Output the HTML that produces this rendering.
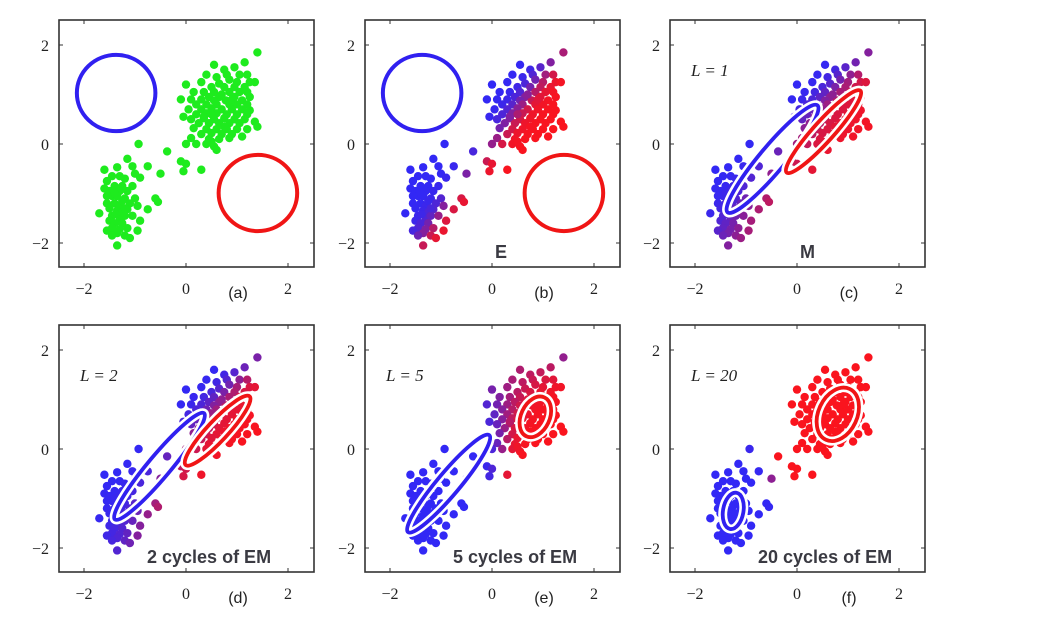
<!DOCTYPE html>
<html><head><meta charset="utf-8">
<style>
html,body{margin:0;padding:0;background:#fff;}
svg{display:block;}
.tk{font-family:"Liberation Serif",serif;font-size:16px;fill:#222;}
.lab{font-family:"Liberation Sans",sans-serif;font-size:16px;fill:#222;}
.Lt{font-family:"Liberation Serif",serif;font-size:17px;fill:#222;font-style:italic;}
.big{font-family:"Liberation Sans",sans-serif;font-size:18px;font-weight:bold;fill:#3a3a42;}
</style></head>
<body>
<svg id="fig" width="1051" height="634" viewBox="0 0 1051 634" xmlns="http://www.w3.org/2000/svg"></svg>
<script>
// ---- data (standardized Old Faithful-like points) ----
const dataX = [-0.93,-1.15,-1.35,-1.6,-1.05,-0.75,-0.5,-1.0,-1.3,-1.45,-1.2,-0.9,-1.55,-1.4,-1.25,-1.05,-1.6,-1.5,-1.3,-1.15,-1.45,-1.35,-1.2,-1.0,-0.6,-0.55,-1.55,-1.4,-1.3,-1.1,-0.95,-1.5,-1.35,-1.25,-1.15,-0.75,-1.7,-1.45,-1.3,-1.2,-1.05,-1.5,-1.4,-1.25,-0.9,-1.45,-1.3,-1.15,-1.55,-1.35,-0.95,-1.45,-1.2,-1.1,-1.35,-1.4,-1.25,-1.38,-1.2,-1.55,
-0.37,-0.1,-0.05,0.0,0.3,
1.4,0.55,1.15,0.95,0.75,0.4,0.8,1.05,1.2,0.6,0.85,0.3,0.65,1.0,1.25,1.35,0.5,0.75,0.95,1.15,0.0,0.15,0.35,0.55,0.85,1.05,1.2,0.45,0.65,0.95,1.25,-0.1,0.1,0.3,0.55,0.78,1.1,0.2,0.4,0.6,0.85,1.0,1.2,0.05,0.3,0.5,0.7,0.9,1.1,1.25,0.2,0.4,0.6,0.8,1.0,1.2,-0.05,0.1,0.35,0.55,0.75,0.95,1.15,0.25,0.45,0.65,0.85,1.05,1.35,1.4,0.15,0.4,0.6,0.8,1.0,1.2,0.3,0.5,0.7,0.9,0.1,0.45,0.65,0.85,0.2,0.4,0.55,0.6,0.5,1.1,0.0,0.75,0.9,0.5,0.7,0.35];
const dataY = [0.0,-0.3,-0.47,-0.52,-0.45,-0.45,-0.6,-0.6,-0.65,-0.65,-0.7,-0.68,-0.75,-0.85,-0.85,-0.85,-0.9,-0.95,-0.95,-0.95,-1.05,-1.05,-1.1,-1.1,-1.1,-1.17,-1.2,-1.2,-1.25,-1.2,-1.25,-1.3,-1.35,-1.38,-1.32,-1.32,-1.4,-1.45,-1.5,-1.45,-1.45,-1.55,-1.6,-1.6,-1.55,-1.7,-1.72,-1.7,-1.75,-1.8,-1.75,-1.85,-1.85,-1.9,-2.05,-1.0,-1.15,-1.42,-1.3,-1.05,
-0.15,-0.35,-0.55,-0.4,-0.52,
1.85,1.6,1.65,1.55,1.5,1.4,1.4,1.4,1.4,1.35,1.3,1.25,1.22,1.25,1.25,1.25,1.15,1.15,1.15,1.15,1.2,1.05,1.05,1.05,1.05,1.05,1.05,0.95,0.95,0.95,0.95,0.9,0.9,0.9,0.88,0.88,0.88,0.8,0.8,0.8,0.8,0.8,0.8,0.7,0.7,0.72,0.7,0.7,0.7,0.68,0.6,0.62,0.62,0.6,0.6,0.6,0.55,0.5,0.52,0.5,0.52,0.5,0.5,0.42,0.42,0.42,0.42,0.42,0.45,0.35,0.32,0.3,0.3,0.3,0.3,0.3,0.2,0.22,0.2,0.2,0.12,0.1,0.1,0.12,0.0,0.0,-0.05,-0.12,0.05,0.15,0.0,0.35,0.9,0.6,1.0,0.55];

// panel components: [cx, cy, semiMajor, semiMinor, angleDeg]
const panelNames = ['a','b','c','d','e','f'];
const blueComp = [[-1.37,1.03,0.77,0.77,0],[-1.37,1.03,0.77,0.77,0],[-0.48,-0.3,1.37,0.25,50],[-0.52,-0.35,1.36,0.22,50],[-0.85,-0.7,1.24,0.22,50],[-1.25,-1.25,0.36,0.2,80]];
const redComp  = [[1.41,-0.99,0.77,0.77,0],[1.41,-0.99,0.77,0.77,0],[0.52,0.25,1.08,0.2,48],[0.62,0.37,0.92,0.2,47],[0.85,0.65,0.42,0.28,65],[0.8,0.7,0.55,0.38,65]];
const respScale = [0,0.6,1.6,1.5,1.2,1];  // variance inflation used for colouring
const showL = [null,null,'1','2','5','20'];
const bigText = [null,'E','M','2 cycles of EM','5 cycles of EM','20 cycles of EM'];
const xTicks = [-2,0,2];
const yTicks = [-2,0,2];

const NS='http://www.w3.org/2000/svg';
const svg=document.getElementById('fig');
function mk(tag,attrs,parent){const e=document.createElementNS(NS,tag);for(const k in attrs)e.setAttribute(k,attrs[k]);(parent||svg).appendChild(e);return e;}

function logDens(x,y,c,inf){
  const th=c[4]*Math.PI/180, dx=x-c[0], dy=y-c[1];
  const u=dx*Math.cos(th)+dy*Math.sin(th), v=-dx*Math.sin(th)+dy*Math.cos(th);
  const a=c[2]*c[2]*inf, b=c[3]*c[3]*inf;
  return -0.5*(u*u/a+v*v/b)-0.5*Math.log(a*b);
}

const X0s=[186,492,797], Y0s=[144,449];
const SX=51, SY=49.5;

panelNames.forEach((nm,i)=>{
  const x0=X0s[i%3], y0=Y0s[Math.floor(i/3)];
  const sx=v=>x0+v*SX, sy=v=>y0-v*SY;
  const g=mk('g',{});
  
  
  const L=x0-127, R=x0+128, T=y0-124, B=y0+123;
  const fr=mk('rect',{x:L,y:T,width:R-L,height:B-T,fill:'#fff',stroke:'#333','stroke-width':1.6},g);
  
  
  xTicks.forEach(t=>{
    mk('line',{x1:sx(t),x2:sx(t),y1:B,y2:B-4,stroke:'#333','stroke-width':1},g);
    mk('line',{x1:sx(t),x2:sx(t),y1:T,y2:T+4,stroke:'#333','stroke-width':1},g);
    const tx=mk('text',{x:sx(t),y:B+27,'text-anchor':'middle',class:'tk'},g);
    tx.textContent=t<0?'\u2212'+(-t):String(t);
    
    
  });
  yTicks.forEach(t=>{
    mk('line',{x1:L,x2:L+4,y1:sy(t),y2:sy(t),stroke:'#333','stroke-width':1},g);
    mk('line',{x1:R,x2:R-4,y1:sy(t),y2:sy(t),stroke:'#333','stroke-width':1},g);
    const ty=mk('text',{x:L-10,y:sy(t)+6,'text-anchor':'end',class:'tk'},g);
    ty.textContent=t<0?'\u2212'+(-t):String(t);
    
    
  });
  // points
  for(let k=0;k<dataX.length;k++){
    let col;
    if(i===0){col='rgb(30,235,30)';}
    else{
      const inf=respScale[i];
      const lb=logDens(dataX[k],dataY[k],blueComp[i],inf), lr=logDens(dataX[k],dataY[k],redComp[i],inf);
      const r=1/(1+Math.exp(lb-lr));
      col='rgb('+Math.round(50+200*r)+','+Math.round(40-20*r)+','+Math.round(245-215*r)+')';
    }
    const c=mk('circle',{cx:sx(dataX[k]),cy:sy(dataY[k]),r:4.2,fill:col},g);
    
    
  }
  // components
  [[blueComp[i],'#3020f0'],[redComp[i],'#f01515']].forEach(([c,color],j)=>{
    const tr='rotate('+(-c[4])+' '+sx(c[0])+' '+sy(c[1])+')';
    const circle = i<2;
    if(!circle) mk('ellipse',{cx:sx(c[0]),cy:sy(c[1]),rx:c[2]*SX,ry:c[3]*SX,transform:tr,fill:'none',stroke:'#fff','stroke-width':9},g);
    const e=mk('ellipse',{cx:sx(c[0]),cy:sy(c[1]),rx:c[2]*SX,ry:c[3]*(circle?SY:SX),transform:tr,fill:'none',stroke:color,'stroke-width':circle?4:3.8},g);
    
    
  });
  if(showL[i]){
    const lt=mk('text',{x:L+21,y:T+56,class:'Lt'},g);
    lt.textContent='L = '+showL[i];
    
    
  }
  if(bigText[i]){
    const w=bigText[i].length>2;
    const bt=mk('text',{x:w?x0-39:x0+3,y:B-9,class:'big'},g);
    bt.textContent=bigText[i];
    
    
  }
  const pl=mk('text',{x:x0+52,y:B+31,'text-anchor':'middle',class:'lab'},g);
  pl.textContent='('+nm+')';
  
  
});
</script>
</body></html>
